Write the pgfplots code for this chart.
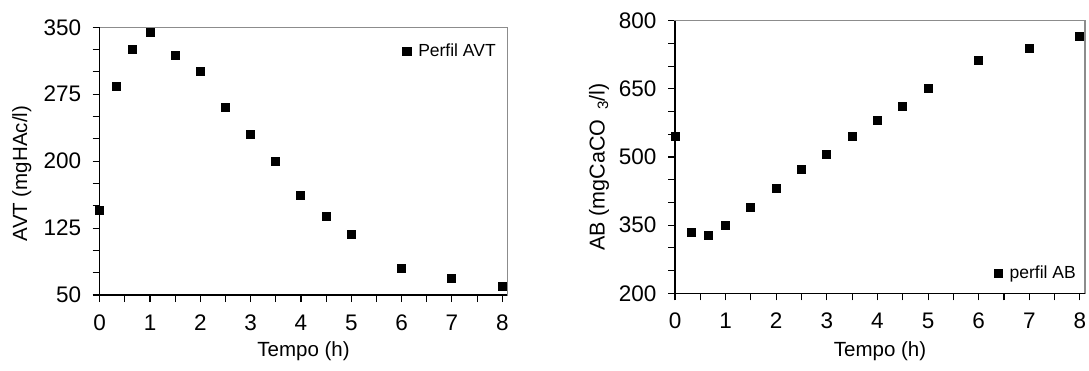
\documentclass[border=0pt]{standalone}
\usepackage{pgfplots}
\pgfplotsset{compat=1.18}
\usepackage{fontspec}
\setmainfont{Liberation Sans}
\begin{document}
\begin{tikzpicture}
\pgfplotsset{
  myaxis/.style={
    scale only axis,
    anchor=south west,
    xmin=0, xmax=8.1,
    xtick={0,1,...,8},
    minor xtick={0.5,1.5,...,7.5},
    tick align=outside,
    tick pos=left,
    major tick length=7pt,
    minor tick length=7pt,
    every tick/.style={black, line width=1.1pt},
    every minor tick/.style={black, line width=1.1pt},
    axis line style={draw=gray!90, line width=1.2pt},
    /pgf/number format/assume math mode=true,
    tick label style={font=\fontsize{22.5}{24}\selectfont},
    xticklabel style={yshift=-9pt},
    yticklabel style={xshift=-8pt},
    label style={font=\fontsize{20.5}{22}\selectfont},
    legend style={draw=none, fill=none, inner sep=0pt, font=\fontsize{17.5}{19}\selectfont,
      /tikz/every odd column/.append style={column sep=5pt}},
    legend image code/.code={\fill[black] (-4.2pt,-4.2pt) rectangle (4.2pt,4.2pt);},
    clip=false,
  },
}
\path[use as bounding box] (0pt,0pt) rectangle (1089pt,370pt);
% Left plot
\begin{axis}[myaxis,
  at={(99.7pt,75pt)}, width=407.6pt, height=267.7pt,
  ymin=50, ymax=350,
  ytick={50,125,...,350},
  minor ytick={75,100,150,175,225,250,300,325},
  xlabel={Tempo (h)}, ylabel={AVT (mgHAc/l)},
  xlabel style={at={(axis description cs:0.5,-0.21)}, anchor=center},
  ylabel style={at={(axis description cs:-0.191,0.454)}, anchor=center},
  legend style={at={(axis description cs:0.977,0.911)}, anchor=east},
]
\addplot[only marks, mark=square*, mark size=4pt, mark options={black, fill=black, line width=0pt}]
coordinates {
(0,144.8) (0.33,284.2) (0.66,325.1) (1,343.7) (1.5,318.8) (2,300.2)
(2.5,259.7) (3,230.3) (3.5,199.1) (4,161.9) (4.5,138.1) (5,118)
(6,79.7) (7,68.2) (8,60)
};
\addlegendentry{Perfil AVT}
\draw[black, line width=1.2pt] (rel axis cs:0,1) -- (rel axis cs:0,0) -- (rel axis cs:1,0);
\end{axis}
% Right plot
\begin{axis}[myaxis,
  at={(675pt,76.7pt)}, width=410pt, height=272.6pt,
  ymin=200, ymax=800,
  ytick={200,350,...,800},
  minor ytick={250,300,400,450,550,600,700,750},
  xlabel={Tempo (h)}, ylabel={AB (mgCaCO\, \textsubscript{3}/l)},
  xlabel style={at={(axis description cs:0.5,-0.213)}, anchor=center},
  ylabel style={at={(axis description cs:-0.185,0.463)}, anchor=center, font=\fontsize{21.5}{23}\selectfont},
  legend style={at={(axis description cs:0.983,0.074)}, anchor=east},
]
\addplot[only marks, mark=square*, mark size=4pt, mark options={black, fill=black, line width=0pt}]
coordinates {
(0,545.4) (0.33,333.9) (0.66,328) (1,348.5) (1.5,389.5) (2,430.5)
(2.5,471.5) (3,505.1) (3.5,545.4) (4,579.8) (4.5,610.5) (5,651.5)
(6,712.9) (7,738.5) (8,764.5)
};
\addlegendentry{perfil AB}
\draw[black, line width=1.2pt] (rel axis cs:0,1) -- (rel axis cs:0,0) -- (rel axis cs:1,0);
\end{axis}
\end{tikzpicture}
\end{document}
